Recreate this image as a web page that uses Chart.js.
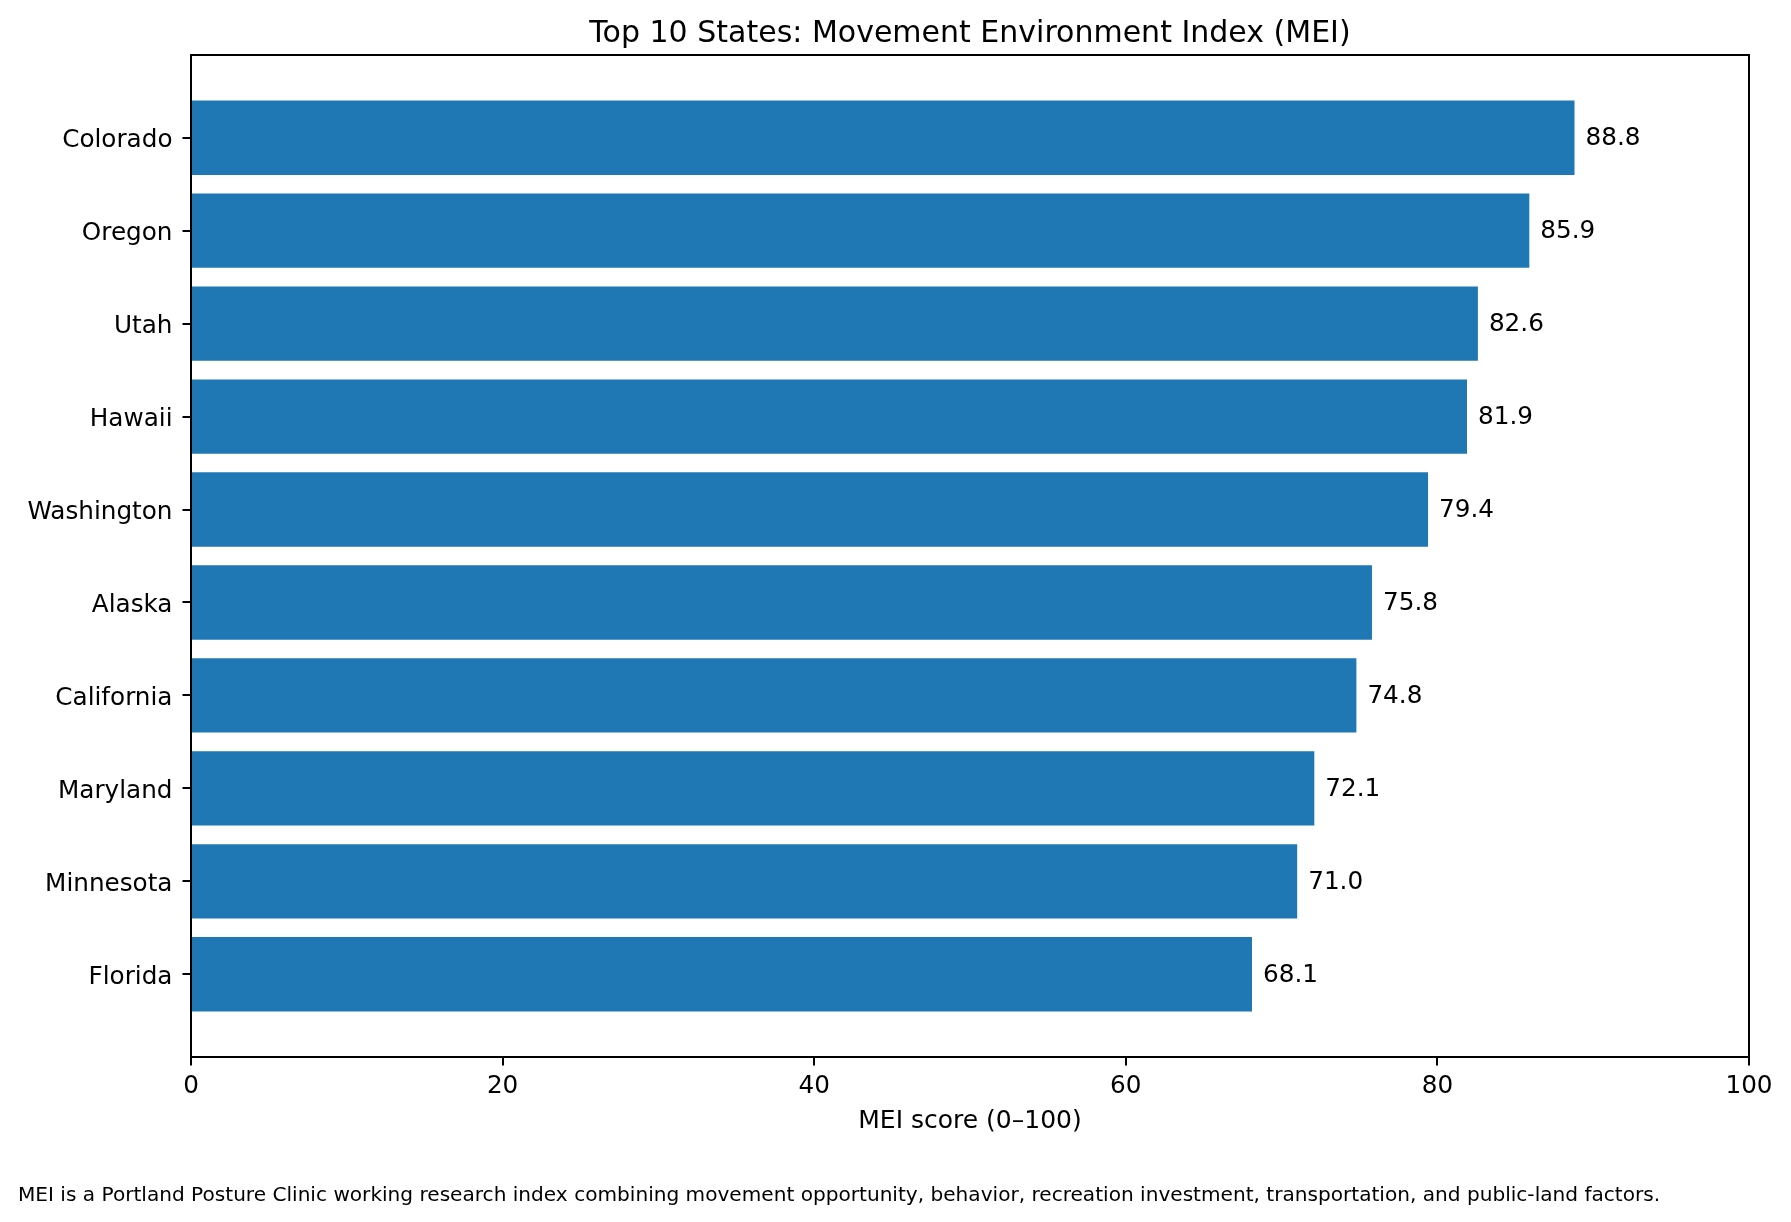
<!DOCTYPE html>
<html>
<head>
<meta charset="utf-8">
<title>Top 10 States: Movement Environment Index (MEI)</title>
<script src="https://cdn.jsdelivr.net/npm/chart.js@4"></script>
<style>
  html, body { margin: 0; padding: 0; background: #fff; }
  #wrap { width: 1791px; height: 1222px; }
</style>
</head>
<body>
<div id="wrap"><canvas id="meiChart" width="1791" height="1222"></canvas></div>
<script>
const states = ['Colorado', 'Oregon', 'Utah', 'Hawaii', 'Washington', 'Alaska', 'California', 'Maryland', 'Minnesota', 'Florida'];
const scores = [88.8, 85.9, 82.6, 81.9, 79.4, 75.8, 74.8, 72.1, 71.0, 68.1];
const xTicks = [0, 20, 40, 60, 80, 100];

const chartTitle = 'Top 10 States: Movement Environment Index (MEI)';
const xTitle = 'MEI score (0–100)';
const footnote = 'MEI is a Portland Posture Clinic working research index combining movement opportunity, behavior, recreation investment, transportation, and public-land factors.';

const FONT = '"DejaVu Sans", "Liberation Sans", sans-serif';
Chart.defaults.font.family = FONT;
Chart.defaults.color = '#000';

// value labels, frame, title and footnote
const annotate = {
    id: 'annotate',
    afterDatasetsDraw(chart) {
        const ctx = chart.ctx;
        const bars = chart.getDatasetMeta(0).data;
        ctx.save();
        ctx.font = '24.7px ' + FONT;
        ctx.fillStyle = '#000';
        ctx.textAlign = 'left';
        ctx.textBaseline = 'middle';
        bars.forEach(function(bar, i) {
            ctx.fillText(scores[i].toFixed(1), bar.x + 11, bar.y + 1);
        });
        ctx.restore();
    },
    afterDraw(chart) {
        const ctx = chart.ctx;
        const a = chart.chartArea;
        ctx.save();
        ctx.strokeStyle = '#000';
        ctx.lineWidth = 2;
        ctx.strokeRect(a.left, a.top, a.right - a.left, a.bottom - a.top);

        ctx.fillStyle = '#000';
        ctx.font = '30px ' + FONT;
        ctx.textAlign = 'center';
        ctx.textBaseline = 'alphabetic';
        ctx.fillText(chartTitle, (a.left + a.right) / 2, a.top - 13);

        ctx.font = '20.1px ' + FONT;
        ctx.textAlign = 'left';
        ctx.fillText(footnote, 18, chart.height - 21);
        ctx.restore();
    }
};

new Chart(document.getElementById('meiChart'), {
    type: 'bar',
    data: {
        datasets: [{
            data: scores.map(function(v, i) { return { x: v, y: i }; }),
            backgroundColor: '#1f77b4',
            borderWidth: 0,
            barPercentage: 0.8,
            categoryPercentage: 1.0
        }]
    },
    options: {
        indexAxis: 'y',
        responsive: false,
        animation: false,
        layout: { padding: { top: 55, right: 42, bottom: 86, left: 0 } },
        plugins: {
            legend: { display: false },
            tooltip: { enabled: false }
        },
        scales: {
            x: {
                type: 'linear',
                min: 0,
                max: 100,
                afterBuildTicks: function(axis) {
                    axis.ticks = xTicks.map(function(v) { return { value: v }; });
                },
                afterFit: function(axis) { axis.height = 79; },
                ticks: { padding: 6, font: { size: 24.7 }, color: '#000' },
                grid: { drawOnChartArea: false, tickLength: 8.5, color: '#000', lineWidth: 2 },
                border: { color: '#000', width: 2 },
                title: { display: true, text: xTitle, font: { size: 25 }, color: '#000', padding: 0 }
            },
            y: {
                type: 'linear',
                reverse: true,
                offset: false,
                min: -0.89,
                max: 9.89,
                afterBuildTicks: function(axis) {
                    axis.ticks = states.map(function(s, i) { return { value: i }; });
                },
                afterFit: function(axis) { axis.width = 191; },
                ticks: {
                    autoSkip: false,
                    padding: 10,
                    labelOffset: 3,
                    font: { size: 24.7 },
                    color: '#000',
                    callback: function(value) { return states[value]; }
                },
                grid: { offset: false, drawOnChartArea: false, tickLength: 8.5, color: '#000', lineWidth: 2 },
                border: { color: '#000', width: 2 }
            }
        }
    },
    plugins: [annotate]
});
</script>
</body>
</html>
